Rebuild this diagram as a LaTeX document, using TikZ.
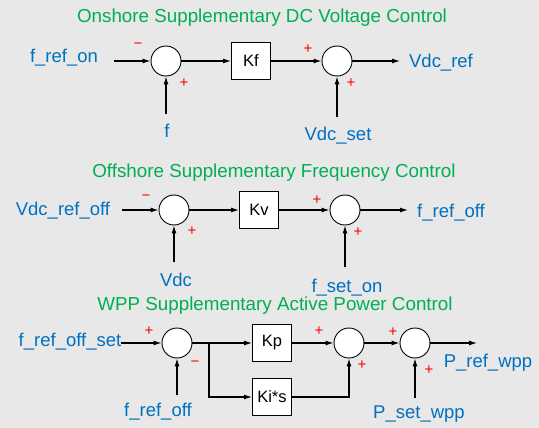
\documentclass[tikz,border=0pt]{standalone}
\usepackage{fontspec}
\setmainfont{Liberation Sans}
\usetikzlibrary{arrows.meta}
\definecolor{bgc}{RGB}{232,232,232}
\definecolor{tgreen}{RGB}{0,176,80}
\definecolor{tblue}{RGB}{0,112,192}
\begin{document}
\begin{tikzpicture}[x=1pt,y=-1pt,
 sumc/.style={circle,draw,fill=white,minimum size=30pt,inner sep=0pt,line width=0.9pt},
 gainbox/.style={draw,fill=white,minimum width=39pt,minimum height=37pt,inner sep=0pt,font=\fontsize{16.5}{18}\selectfont,line width=0.9pt},
 lbl/.style={text=tblue,font=\fontsize{18.5}{20}\selectfont,inner sep=0pt},
 ttl/.style={text=tgreen,font=\fontsize{18.8}{20}\selectfont,inner sep=0pt},
 sgn/.style={text=red,font=\fontsize{15}{16}\selectfont,inner sep=0pt},
 arr/.style={-{Latex[length=8pt,width=5pt]},line width=1.1pt}]
\fill[bgc] (0,0) rectangle (539,428);
% Row 1
\node[ttl] (t1) at (262,18) {Onshore Supplementary DC Voltage Control};
\node[lbl] (frefon) at (64,58) {f\_ref\_on};
\coordinate (a1) at (114,61);
\node[sumc] (s1) at (166,61) {};
\node[sgn] (m1) at (138,46) {−};
\node[sgn] (p1) at (184,83) {+};
\coordinate (b1) at (166,114);
\node[lbl] (f) at (167,131) {f};
\node[gainbox] (kf) at (251,61) {Kf};
\node[sumc] (s2) at (337,61) {};
\node[sgn] (p2) at (308,49) {+};
\node[sgn] (p3) at (351,83) {+};
\coordinate (b2) at (337,117);
\node[lbl] (vdcset) at (338,136) {Vdc\_set};
\coordinate (o1) at (400,61);
\node[lbl] (vdcref) at (441,63) {Vdc\_ref};
\draw[arr] (a1) -- (s1);
\draw[arr] (b1) -- (s1);
\draw[arr] (s1) -- (kf);
\draw[arr] (kf) -- (s2);
\draw[arr] (b2) -- (s2);
\draw[arr] (s2) -- (o1);
% Row 2
\node[ttl] (t2) at (274,173) {Offshore Supplementary Frequency Control};
\node[lbl] (vdcrefoff) at (63,211) {Vdc\_ref\_off};
\coordinate (a2) at (122,210);
\node[sumc] (s3) at (174,210) {};
\node[sgn] (m2) at (146,198) {−};
\node[sgn] (p4) at (192,231) {+};
\coordinate (b3) at (174,262);
\node[lbl] (vdc) at (176,280) {Vdc};
\node[gainbox] (kv) at (259,210) {Kv};
\node[sumc] (s4) at (345,210) {};
\node[sgn] (p5) at (317,200) {+};
\node[sgn] (p6) at (358,232) {+};
\coordinate (b4) at (345,267);
\node[lbl] (fseton) at (347,288) {f\_set\_on};
\coordinate (o2) at (408,210);
\node[lbl] (frefoff) at (451,213) {f\_ref\_off};
\draw[arr] (a2) -- (s3);
\draw[arr] (b3) -- (s3);
\draw[arr] (s3) -- (kv);
\draw[arr] (kv) -- (s4);
\draw[arr] (b4) -- (s4);
\draw[arr] (s4) -- (o2);
% Row 3
\node[ttl] (t3) at (275,306) {WPP Supplementary Active Power Control};
\node[lbl] (frefoffset) at (70,342) {f\_ref\_off\_set};
\node[sumc] (s5) at (177,343) {};
\node[sgn] (p7) at (149,331) {+};
\node[sgn] (m3) at (195,364) {−};
\coordinate (b5) at (177,395);
\node[lbl] (frefoff2) at (158,412) {f\_ref\_off};
\coordinate (j1) at (209,343);
\node[gainbox] (kp) at (272,343) {Kp};
\node[gainbox] (kis) at (272,397) {Ki*s};
\node[sumc] (s6) at (349,343) {};
\node[sgn] (p8) at (319,331) {+};
\node[sgn] (p9) at (362,365) {+};
\node[sumc] (s7) at (415,343) {};
\node[sgn] (p10) at (393,332) {+};
\node[sgn] (p11) at (429,370) {+};
\coordinate (b6) at (415,398);
\node[lbl] (psetwpp) at (419,414) {P\_set\_wpp};
\coordinate (o3) at (477,343);
\node[lbl] (prefwpp) at (488,363) {P\_ref\_wpp};
\draw[arr] (frefoffset.east |- s5) -- (s5);
\draw[arr] (b5) -- (s5);
\draw[arr] (s5) -- (kp);
\draw[arr] (j1) |- (kis);
\draw[arr] (kp) -- (s6);
\draw[arr] (kis) -| (s6);
\draw[arr] (s6) -- (s7);
\draw[arr] (b6) -- (s7);
\draw[arr] (s7) -- (o3);
\end{tikzpicture}
\end{document}
